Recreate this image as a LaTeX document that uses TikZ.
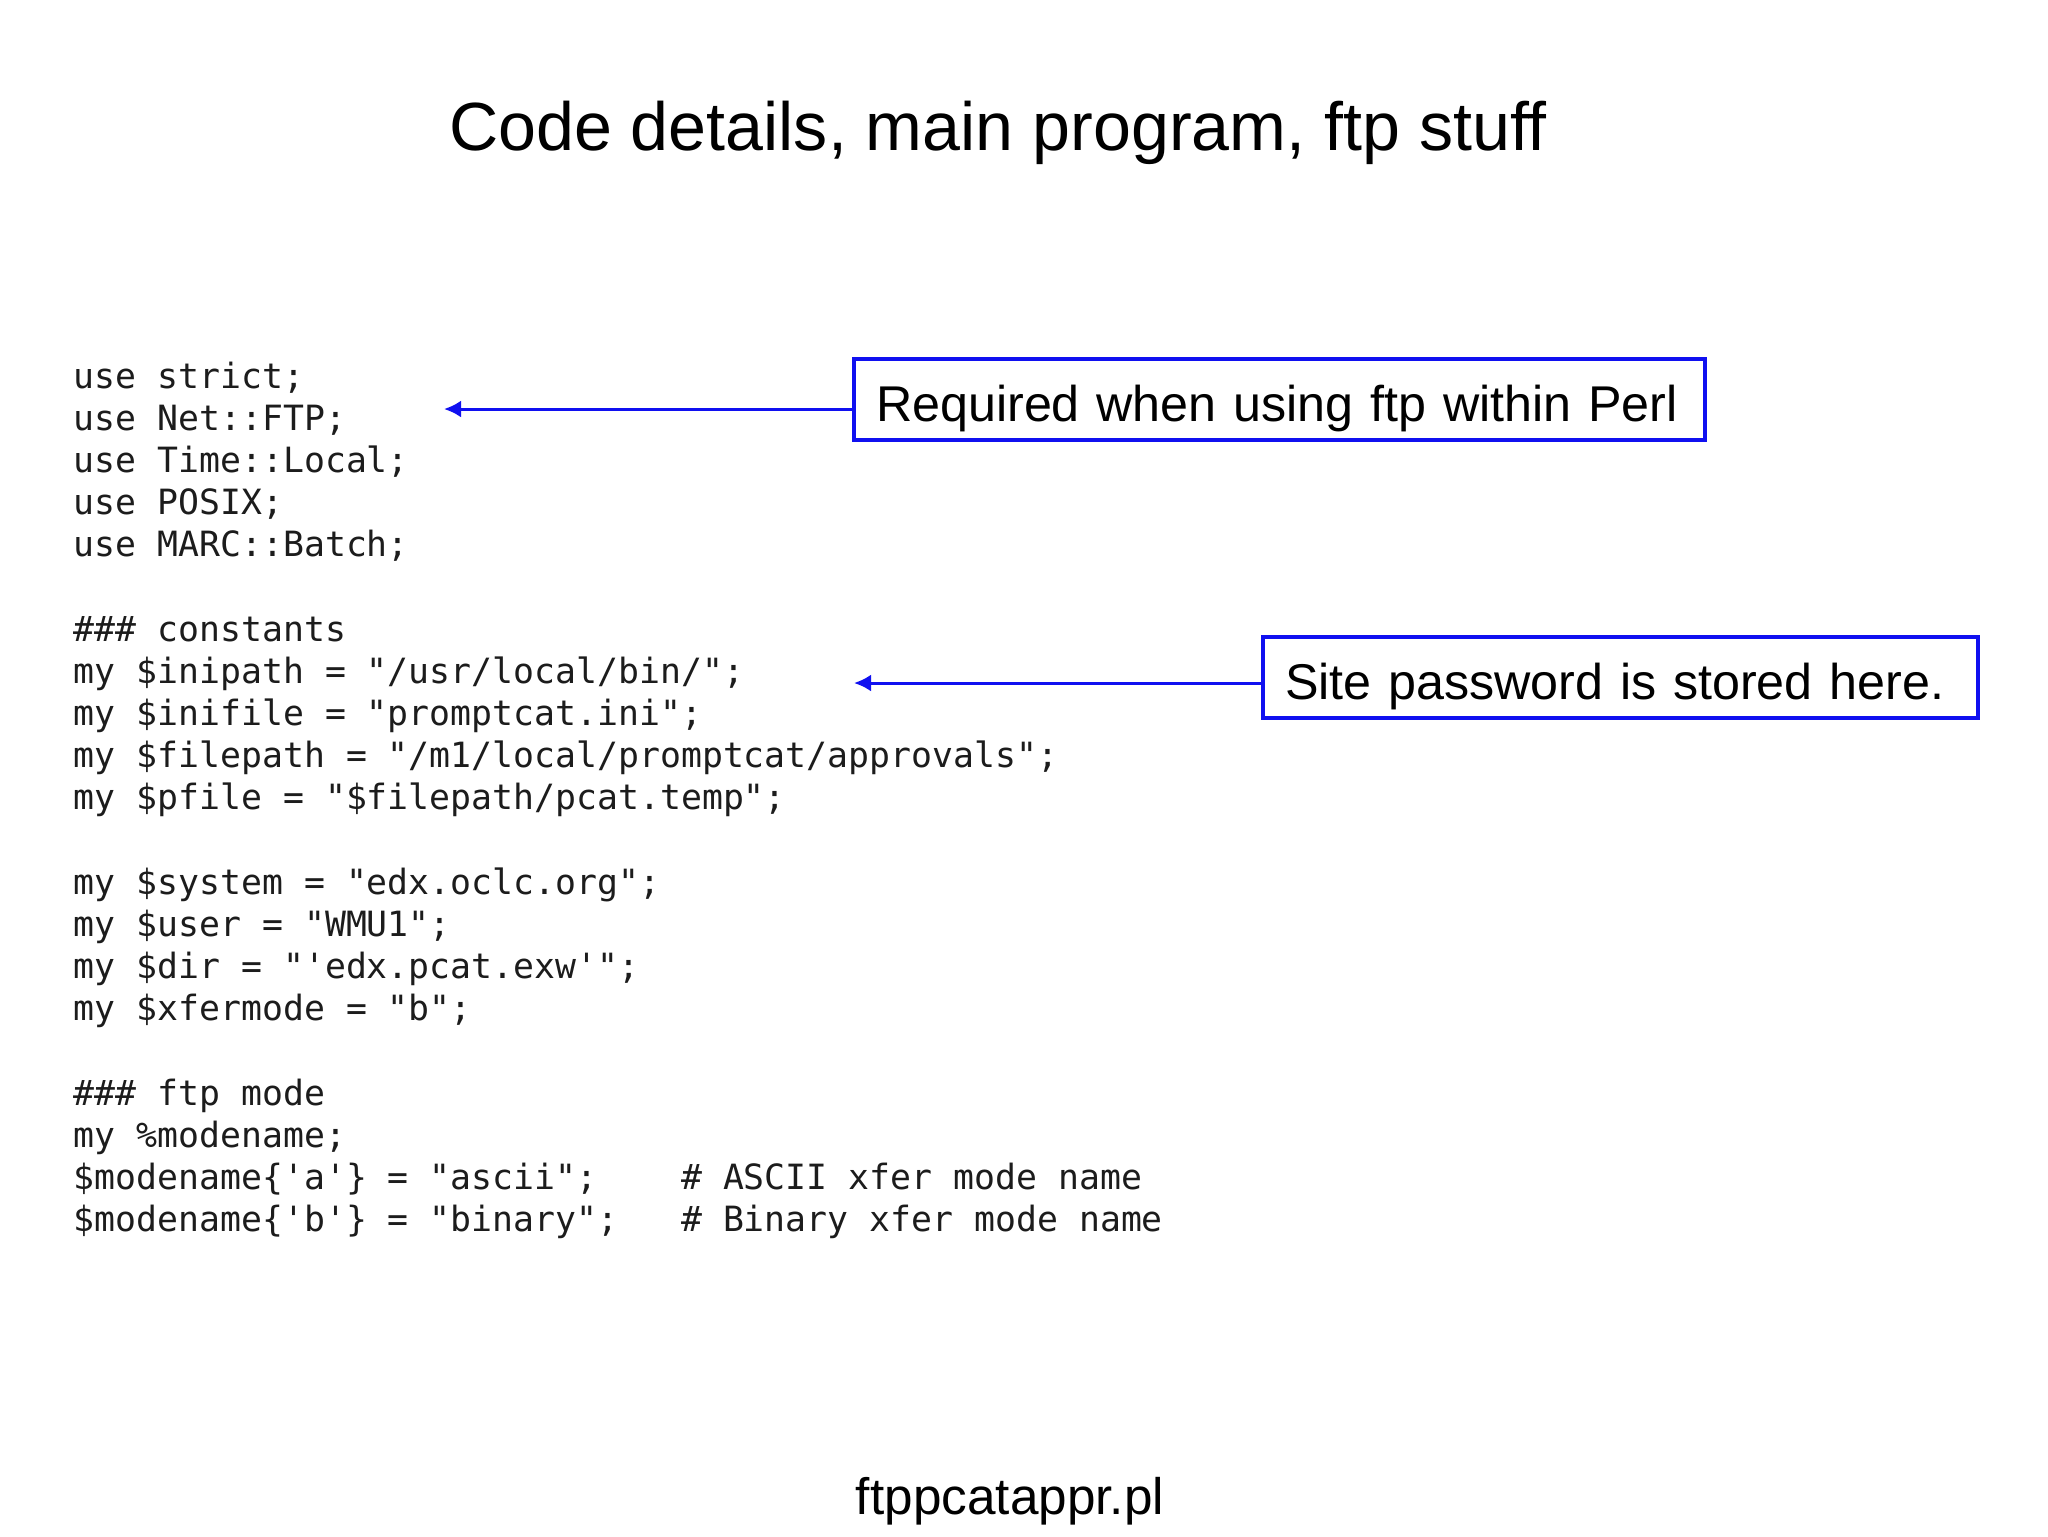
\documentclass[tikz,border=0pt]{standalone}
\usepackage{fontspec}
\setmainfont{Liberation Sans}
\setmonofont{DejaVu Sans Mono}
\usetikzlibrary{arrows.meta}
\definecolor{codeink}{HTML}{1C1C1C}
\definecolor{callblue}{HTML}{1010F0}
\tikzset{
  titletext/.style={inner sep=0, anchor=base, font=\fontsize{19.4}{23}\selectfont},
  footertext/.style={inner sep=0, anchor=base, font=\fontsize{14.6}{17}\selectfont},
  codeline/.style={inner sep=0, anchor=base west, text=codeink, font=\ttfamily\fontsize{9.9}{12}\selectfont},
  callout/.style={draw=callblue, line width=0.4mm, outer sep=0, inner xsep=2.2mm, inner ysep=0,
    text height=6.2mm, text depth=1.9mm, align=left, anchor=north west,
    font=\fontsize{14.3}{17}\selectfont},
  pointer/.style={draw=callblue, line width=0.3mm, -{Latex[length=1.7mm,width=1.7mm]}}
}
\begin{document}
\begin{tikzpicture}[x=0.1mm, y=-0.1mm]
\useasboundingbox[fill=white] (0,0) rectangle (2048,1536);

\node[titletext] (title) at (998,150) {Code details, main program, ftp stuff};

% code block
\node[codeline] (c0)  at (73,388) {use strict;};
\node[codeline] (c1)  at (73,430.2) {use Net::FTP;};
\node[codeline] (c2)  at (73,472.4) {use Time::Local;};
\node[codeline] (c3)  at (73,514.6) {use POSIX;};
\node[codeline] (c4)  at (73,556.8) {use MARC::Batch;};
\node[codeline] (c6)  at (73,641.1) {\#\#\# constants};
\node[codeline] (c7)  at (73,683.3) {my \$inipath = "/usr/local/bin/";};
\node[codeline] (c8)  at (73,725.5) {my \$inifile = "promptcat.ini";};
\node[codeline] (c9)  at (73,767.7) {my \$filepath = "/m1/local/promptcat/approvals";};
\node[codeline] (c10) at (73,809.9) {my \$pfile = "\$filepath/pcat.temp";};
\node[codeline] (c12) at (73,894.3) {my \$system = "edx.oclc.org";};
\node[codeline] (c13) at (73,936.5) {my \$user = "WMU1";};
\node[codeline] (c14) at (73,978.7) {my \$dir = "'edx.pcat.exw'";};
\node[codeline] (c15) at (73,1020.9) {my \$xfermode = "b";};
\node[codeline] (c17) at (73,1105.2) {\#\#\# ftp mode};
\node[codeline] (c18) at (73,1147.4) {my \%modename;};
\node[codeline] (c19) at (73,1189.6) {\$modename\{'a'\} = "ascii";\ \ \ \ \# ASCII xfer mode name};
\node[codeline] (c20) at (73,1231.8) {\$modename\{'b'\} = "binary";\ \ \ \# Binary xfer mode name};

% callouts
\node[callout, text width=80.7mm] (r1) at (854,359) {\mbox{Required when using ftp within Perl}};
\node[callout, text width=67.1mm] (r2) at (1263,637) {\mbox{Site password is stored here.}};

\coordinate (t1) at (444,409);
\coordinate (t2) at (854,683);
\draw[pointer] (r1.west |- t1) -- (t1);
\draw[pointer] (r2.west |- t2) -- (t2);

\node[footertext] (footer) at (1010,1514) {ftppcatappr.pl};
\end{tikzpicture}
\end{document}
